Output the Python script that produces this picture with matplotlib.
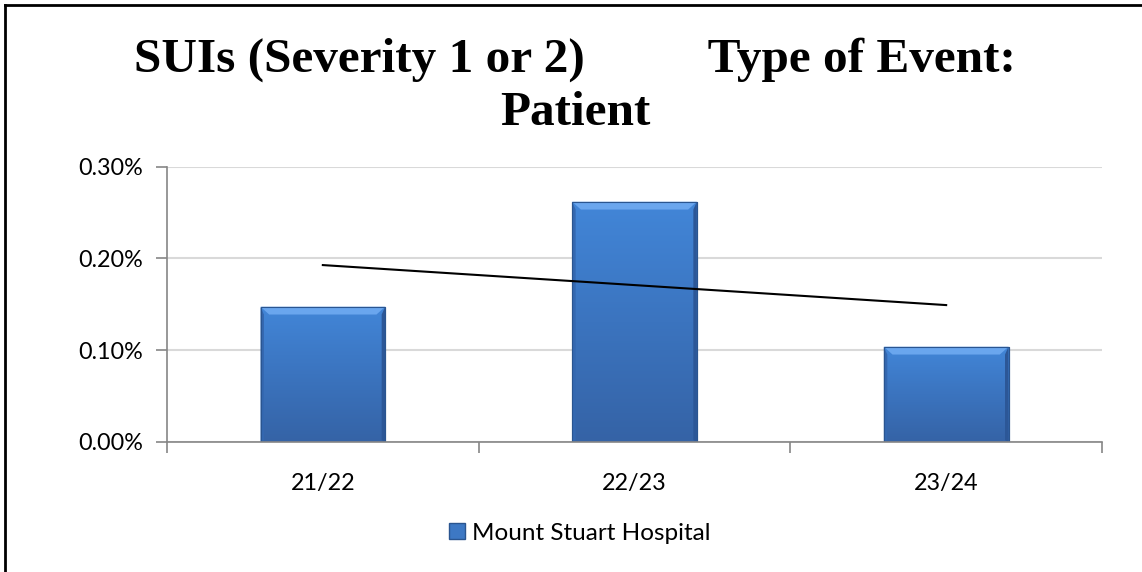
import numpy as np
import matplotlib
matplotlib.use("Agg")
import matplotlib.pyplot as plt
from matplotlib.lines import Line2D
from matplotlib.patches import Polygon

categories = ["21/22", "22/23", "23/24"]
rates = [0.1474, 0.2618, 0.1038]          # % of patients
series_name = "Mount Stuart Hospital"
title = "SUIs (Severity 1 or 2)          Type of Event:\nPatient"
y_ticks = [0.0, 0.1, 0.2, 0.3]

W, H = 1142, 572
fig = plt.figure(figsize=(W / 100, H / 100), dpi=100)
ax = fig.add_axes([167 / W, 1 - 442 / H, 935 / W, (442 - 166.7) / H])

x = np.arange(len(categories))
bars = ax.bar(x, rates, width=0.4, color="#3d78c4", edgecolor="#2a5590",
              linewidth=0.8, zorder=2)

# fake the Excel bevel: vertical gradient + lighter top strip
grad = np.linspace(0, 1, 256).reshape(-1, 1)
cmap = matplotlib.colors.LinearSegmentedColormap.from_list(
    "bev", ["#3563a6", "#3b74bf", "#4286d8"])
for b in bars:
    x0, w, h = b.get_x(), b.get_width(), b.get_height()
    im = ax.imshow(grad, cmap=cmap, aspect="auto", origin="lower",
                   extent=[x0, x0 + w, 0, h], zorder=2.1)
    im.set_clip_path(b)
    dx = w * 0.07
    dy = 0.0085
    ax.add_patch(Polygon([[x0, h], [x0 + w, h], [x0 + w - dx, h - dy],
                          [x0 + dx, h - dy]], closed=True,
                         facecolor="#6aa6ee", edgecolor="none", zorder=2.2))
    ax.add_patch(Polygon([[x0, 0], [x0 + dx * 0.4, 0.002], [x0 + dx * 0.4, h - dy],
                          [x0, h]], closed=True, facecolor="#3468b0",
                         edgecolor="none", zorder=2.2))
    ax.add_patch(Polygon([[x0 + w, 0], [x0 + w - dx * 0.4, 0.002],
                          [x0 + w - dx * 0.4, h - dy], [x0 + w, h]], closed=True,
                         facecolor="#2c5797", edgecolor="none", zorder=2.2))
    ax.add_patch(plt.Rectangle((x0, 0), w, h, facecolor="none",
                               edgecolor="#2a5590", lw=0.8, zorder=2.3))

# linear trendline
k, c = np.polyfit(x, rates, 1)
ax.plot(x, k * x + c, color="black", lw=1.5, zorder=3)

ax.set_xlim(-0.5, len(categories) - 0.5)
ax.set_ylim(0, 0.3)
ax.set_yticks(y_ticks)
ax.set_yticklabels([f"{v:.2f}%" for v in y_ticks])
ax.set_xticks(np.arange(len(categories) + 1) - 0.5)
ax.set_xticklabels([])
ax.set_xticks(x, minor=True)
ax.set_xticklabels(categories, minor=True)
ax.tick_params(axis="x", which="minor", length=0, pad=22)
ax.tick_params(axis="x", which="major", length=8, color="#868686", width=1.2)
ax.tick_params(axis="y", length=8, color="#868686", width=1.2, pad=9.5)
for lab in ax.get_xticklabels(minor=True) + ax.get_yticklabels():
    lab.set_fontfamily("Lato")
    lab.set_fontsize(16.8)
    lab.set_color("black")

ax.grid(axis="y", color="#d9d9d9", lw=1.5, zorder=0)
ax.set_axisbelow(True)
for s in ("top", "right"):
    ax.spines[s].set_visible(False)
for s in ("left", "bottom"):
    ax.spines[s].set_color("#868686")
    ax.spines[s].set_linewidth(1.2)

leg = fig.legend([plt.Rectangle((0, 0), 1, 1, facecolor="#3d78c4",
                                edgecolor="#2a5590")], [series_name],
                 loc="center", bbox_to_anchor=(580 / W, 1 - 533 / H),
                 frameon=False, handlelength=0.65, handleheight=0.65,
                 handletextpad=0.3, prop={"family": "Lato", "size": 17.5})

fig.text(575 / W, 1 - 86 / H, title, ha="center", va="center",
         fontfamily="Liberation Serif", fontweight="bold", fontsize=35.5,
         linespacing=1.25)

# chart border (only left and top visible in the crop)
fig.add_artist(Line2D([5 / W, 5 / W], [0, 1 - 5 / H], transform=fig.transFigure,
                      color="black", lw=2))
fig.add_artist(Line2D([5 / W, 1], [1 - 5 / H, 1 - 5 / H], transform=fig.transFigure,
                      color="black", lw=2))

fig.savefig("out.png", dpi=100)
